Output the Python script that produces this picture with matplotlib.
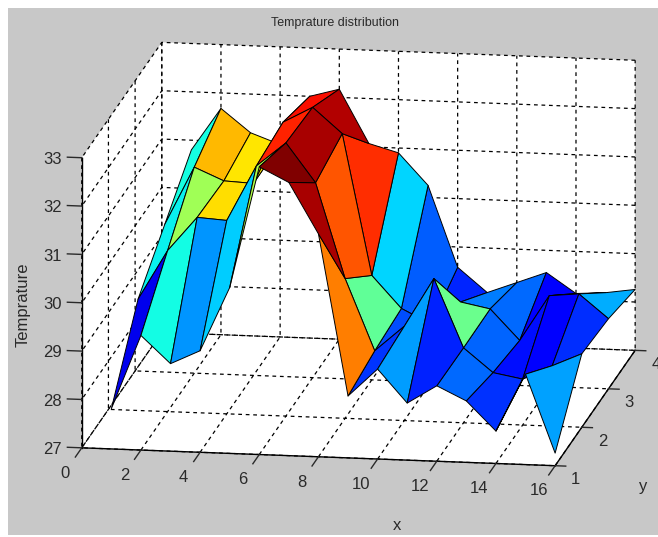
import numpy as np
import matplotlib
matplotlib.use("Agg")
import matplotlib.pyplot as plt
from matplotlib.colors import Normalize
from matplotlib.patches import Rectangle
from matplotlib.transforms import ScaledTranslation

# --------------------------- Data ---------------------------
x_nodes = list(range(1, 17))
y_nodes = [1, 2, 3, 4]
temp_y1 = [27.83, 29.37, 28.81, 29.10, 30.43, 32.95, 32.65, 31.61, 28.28, 28.86, 28.18, 28.56, 28.27, 27.67, 28.87, 27.26]
temp_y2 = [29.30, 30.33, 31.04, 31.00, 32.15, 32.65, 31.85, 29.89, 28.42, 28.95, 29.96, 28.55, 28.06, 27.95, 28.25, 28.52]
temp_y3 = [30.05, 31.26, 31.00, 30.97, 32.26, 32.59, 32.07, 29.16, 28.50, 28.20, 28.68, 28.56, 27.93, 28.88, 28.94, 28.45]
temp_y4 = [30.80, 31.68, 31.20, 30.98, 32.00, 32.17, 31.07, 30.90, 30.25, 28.58, 28.08, 28.31, 28.54, 28.13, 28.17, 28.26]
# the thin strip at x=1..2, y=3..4 reads cooler in colour than in height
strip_colour_value = 29.4
x_ticks = [0, 2, 4, 6, 8, 10, 12, 14, 16]
y_ticks = [1, 2, 3, 4]
z_ticks = [27, 28, 29, 30, 31, 32, 33]

# --------------------------- Setup ---------------------------
plt.rcParams["font.family"] = ["Liberation Sans", "DejaVu Sans"]
plt.rcParams["grid.linestyle"] = (0, (3, 3))
plt.rcParams["grid.color"] = "black"
plt.rcParams["grid.linewidth"] = 0.9

W, H = 658, 537
GRAY = "#c8c8c8"
TEXT = "#2a2a2a"
fig = plt.figure(figsize=(W / 100, H / 100), dpi=100, facecolor="white")
fig.add_artist(Rectangle((8 / W, 2 / H), 1 - 8 / W, 1 - 10 / H, transform=fig.transFigure,
                         facecolor=GRAY, edgecolor="none", zorder=-10))

side = 700
ax = fig.add_axes([-1 / W, -76.5 / H, side / W, side / H], projection="3d", proj_type="ortho")
ax.patch.set_alpha(0)
ax.view_init(elev=13.5, azim=-80.8)
ax.set_box_aspect((479, 500, 298), zoom=1.0466)

X, Y = np.meshgrid(x_nodes, y_nodes)
Z = np.array([temp_y1, temp_y2, temp_y3, temp_y4])
C = Z.copy()
C[2, 0] = strip_colour_value
norm = Normalize(vmin=27.3, vmax=32.85)
ax.plot_surface(X, Y, Z, rstride=1, cstride=1, facecolors=plt.cm.jet(norm(C)), shade=False,
                edgecolor="black", linewidth=0.7, antialiased=True)

ax.set_xlim(0, 16)
ax.set_ylim(1, 4)
ax.set_zlim(27, 33)
ax.set_xticks(x_ticks)
ax.set_yticks(y_ticks)
ax.set_zticks(z_ticks)
ax.zaxis.set_ticks_position("lower")
ax.tick_params(labelsize=12, colors=TEXT)

for axis in (ax.xaxis, ax.yaxis, ax.zaxis):
    axis.set_pane_color("white")
    axis.pane.set_edgecolor("none")
    axis.line.set_color("black")
    axis.line.set_linewidth(1.0)

# tick lengths, factors of axis range / 12 along the tick direction
# mplot3d's inward side is the one that points out of the box for x and y
tick_factors = {ax.xaxis: (0.0, 1.0), ax.yaxis: (0.0, 0.28), ax.zaxis: (0.38, 0.0)}
for axis, (outward, inward) in tick_factors.items():
    axis._axinfo["tick"]["outward_factor"] = outward
    axis._axinfo["tick"]["inward_factor"] = inward
    axis._axinfo["tick"]["linewidth"] = {True: 1.0, False: 0.8}
# z ticks run along x (to the left), not along y
ax.zaxis._get_tickdir = lambda pos: 0

# nudge tick labels, in pixels
# Axis3D.get_major_ticks resets the transform on every call, so block that
label_shift = {ax.xaxis: (-13, 0), ax.yaxis: (0, 7), ax.zaxis: (-5, 10)}
for axis, (dx, dy) in label_shift.items():
    shift = ScaledTranslation(dx / 100, dy / 100, fig.dpi_scale_trans)
    for tick in axis.get_major_ticks():
        tick.label1.set_transform(ax.transData + shift)
        tick.label1.set_transform = lambda t: None

# ---------- Title and axis labels ----------
fig.text(335 / W, 1 - 23 / H, "Temprature distribution", ha="center", va="center", fontsize=9, color=TEXT)
fig.text(397 / W, 1 - 526 / H, "x", ha="center", va="center", fontsize=12, color=TEXT)
fig.text(643 / W, 1 - 487 / H, "y", ha="center", va="center", fontsize=12, color=TEXT)
fig.text(23 / W, 1 - 305 / H, "Temprature", ha="center", va="center", rotation=90, fontsize=12, color=TEXT)

fig.savefig("out.png", dpi=100, facecolor=fig.get_facecolor())
